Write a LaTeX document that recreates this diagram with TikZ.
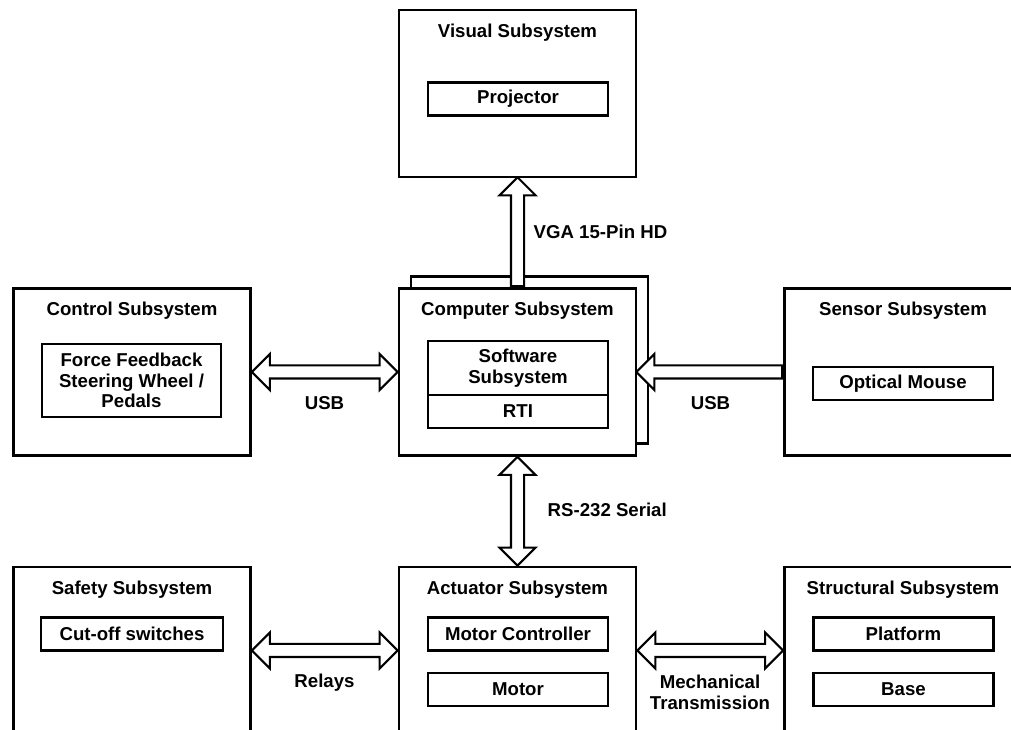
\documentclass[tikz,border=0pt]{standalone}
\usepackage{fontspec}
\setmainfont{Liberation Sans}
\usepackage{tikz}
\usetikzlibrary{arrows.meta,positioning,calc,shapes.arrows}

\newcommand{\linkarrow}[3]{%
  \path let \p1=($(#3)-(#2)$), \n1={veclen(\x1,\y1)}, \n2={atan2(\y1,\x1)} in
    node[#1, minimum height=\n1, rotate=\n2] at ($(#2)!0.5!(#3)$) {};}
\newcommand{\linkhead}[3]{%
  \path let \p1=($(#3)-(#2)$), \n1={veclen(\x1,\y1)}, \n2={atan2(\y1,\x1)} in
    node[#1, minimum height=\n1, rotate=\n2, anchor=tail] at (#2) {};}

\begin{document}
\begin{tikzpicture}[>=Latex,
  every node/.style={font=\fontsize{10.6}{11.8}\selectfont\bfseries},
  subsys/.style={draw, line width=1.5pt, fill=white, minimum width=4.74cm, minimum height=3.34cm},
  part/.style={draw, line width=1.3pt, fill=white, outer sep=0pt, align=center, minimum width=3.6cm, minimum height=0.66cm},
  title/.style={anchor=north, inner sep=0pt},
  fat/.style={single arrow, draw, fill=white, line width=1.2pt, inner xsep=0pt, inner ysep=0.11cm,
    single arrow head extend=0.23cm, single arrow tip angle=90},
  fatboth/.style={double arrow, draw, fill=white, line width=1.2pt, inner xsep=0pt, inner ysep=0.11cm,
    double arrow head extend=0.23cm, double arrow tip angle=90}]
  \useasboundingbox (0,0) rectangle (20.22,14.6);

  \node[subsys] (vis) at (10.35,12.73) {};
  \node[title] (vistitle) at ([yshift=-0.3cm]vis.north) {Visual Subsystem};
  \node[part] (proj) at (10.36,12.62) {Projector};

  \node[subsys] (ctrl) at (2.64,7.16) {};
  \node[title] (ctrltitle) at ([yshift=-0.29cm]ctrl.north) {Control Subsystem};
  \node[part, minimum width=3.58cm, minimum height=1.46cm] (wheel) at (2.63,6.99) {Force Feedback\\Steering Wheel /\\Pedals};

  \node[subsys] (compback) at (10.59,7.40) {};
  \node[subsys] (comp) at (10.35,7.16) {};
  \node[title] (comptitle) at ([yshift=-0.29cm]comp.north) {Computer Subsystem};
  \node[part, minimum height=1.08cm] (sw) at (10.36,7.24) {Software\\Subsystem};
  \node[part, below=0pt of sw] (rti) {RTI};

  \node[subsys] (sens) at (18.06,7.16) {};
  \node[title] (senstitle) at ([yshift=-0.29cm]sens.north) {Sensor Subsystem};
  \node[part] (mouse) at (18.06,6.93) {Optical Mouse};

  \node[subsys] (safe) at (2.64,1.59) {};
  \node[title] (safetitle) at ([yshift=-0.29cm]safe.north) {Safety Subsystem};
  \node[part, minimum width=3.64cm] (cutoff) at (2.64,1.92) {Cut-off switches};

  \node[subsys] (act) at (10.35,1.59) {};
  \node[title] (acttitle) at ([yshift=-0.29cm]act.north) {Actuator Subsystem};
  \node[part] (mctrl) at (10.36,1.92) {Motor Controller};
  \node[part] (motor) at (10.36,0.81) {Motor};

  \node[subsys] (struc) at (18.06,1.59) {};
  \node[title] (structitle) at ([yshift=-0.29cm]struc.north) {Structural Subsystem};
  \node[part] (platform) at (18.07,1.92) {Platform};
  \node[part] (base) at (18.07,0.81) {Base};

  \linkhead{fat}{comp.north}{vis.south}
  \linkarrow{fatboth}{ctrl.east}{comp.west}
  \linkhead{fat}{sens.west}{comp.east}
  \linkarrow{fatboth}{comp.south}{act.north}
  \linkarrow{fatboth}{safe.east}{act.west}
  \linkarrow{fatboth}{act.east}{struc.west}

  \node[anchor=west] (vga) at (10.55,9.96) {VGA 15-Pin HD};
  \node (usbleft) at (6.49,6.54) {USB};
  \node (usbright) at (14.21,6.54) {USB};
  \node[anchor=west] (serial) at (10.83,4.40) {RS-232 Serial};
  \node (relays) at (6.49,0.94) {Relays};
  \node[align=center] (mech) at (14.2,0.76) {Mechanical\\Transmission};
\end{tikzpicture}
\end{document}
